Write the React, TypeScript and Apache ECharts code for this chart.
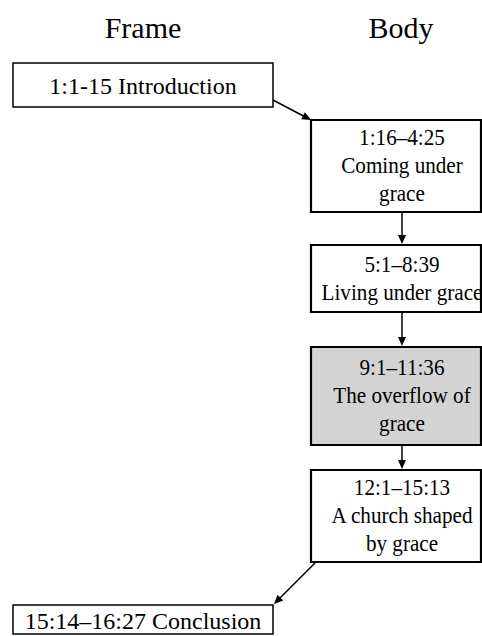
import React, { useEffect, useRef } from "react";
import * as echarts from "echarts";

// ---- content ----
const columnTitles = ["Frame", "Body"];
const frameLabels = ["1:1-15 Introduction", "15:14–16:27 Conclusion"];
const bodyLabels = [
  ["1:16–4:25", "Coming under", "grace"],
  ["5:1–8:39", "Living under grace"],
  ["9:1–11:36", "The overflow of", "grace"],
  ["12:1–15:13", "A church shaped", "by grace"],
];
const bodyHighlighted = [false, false, true, false];

// ---- layout ----
const W = 482;
const H = 636;
const FONT = "'Liberation Serif', 'DejaVu Serif', serif";
const titleX = [143, 401];
const titleY = 27;
const frameBox = { x: 13, w: 260 };
const frameY = [
  [63, 107],
  [605, 634],
];
const bodyBox = { x: 311, w: 170, textX: 402 };
const bodyY = [
  [120, 212],
  [245, 312],
  [347, 445],
  [470, 562],
];
const LINE_H = 28;

function arrow(x1: number, y1: number, x2: number, y2: number): any[] {
  const dx = x2 - x1;
  const dy = y2 - y1;
  const len = Math.sqrt(dx * dx + dy * dy);
  const ux = dx / len;
  const uy = dy / len;
  const headL = 9;
  const headW = 4;
  const bx = x2 - ux * headL;
  const by = y2 - uy * headL;
  const px = -uy;
  const py = ux;
  return [
    {
      type: "line",
      shape: { x1, y1, x2: bx + ux * 2, y2: by + uy * 2 },
      style: { stroke: "#000", lineWidth: 1.5 },
    },
    {
      type: "polygon",
      shape: {
        points: [
          [x2, y2],
          [bx + px * headW, by + py * headW],
          [bx - px * headW, by - py * headW],
        ],
      },
      style: { fill: "#000" },
    },
  ];
}

export default function App() {
  const ref = useRef<HTMLDivElement>(null);
  useEffect(() => {
    document.body.style.margin = "0";
    if (!ref.current) return;
    const chart = echarts.init(ref.current, null, { renderer: "svg" });
    const elements: any[] = [];

    columnTitles.forEach((t, i) => {
      elements.push({
        type: "text",
        style: {
          text: t,
          x: titleX[i],
          y: titleY,
          align: "center",
          verticalAlign: "middle",
          font: `30px ${FONT}`,
          fill: "#000",
        },
      });
    });

    frameLabels.forEach((t, i) => {
      const [y0, y1] = frameY[i];
      elements.push({
        type: "rect",
        shape: { x: frameBox.x, y: y0, width: frameBox.w, height: y1 - y0 },
        style: { fill: "#fff", stroke: "#000", lineWidth: 1.5 },
      });
      elements.push({
        type: "text",
        style: {
          text: t,
          x: frameBox.x + frameBox.w / 2,
          y: (y0 + y1) / 2 + 1,
          align: "center",
          verticalAlign: "middle",
          font: `24px ${FONT}`,
          fill: "#000",
        },
      });
    });

    bodyLabels.forEach((lines, i) => {
      const [y0, y1] = bodyY[i];
      const cy = (y0 + y1) / 2;
      elements.push({
        type: "rect",
        shape: { x: bodyBox.x, y: y0, width: bodyBox.w, height: y1 - y0 },
        style: {
          fill: bodyHighlighted[i] ? "#d3d3d3" : "#fff",
          stroke: "#000",
          lineWidth: 2.2,
        },
      });
      elements.push({
        type: "text",
        x: bodyBox.textX,
        y: cy,
        scaleX: 0.94,
        style: {
          text: lines.join("\n"),
          x: 0,
          y: 0,
          align: "center",
          verticalAlign: "middle",
          lineHeight: LINE_H,
          font: `22.5px ${FONT}`,
          fill: "#000",
        },
      });
    });

    // connectors
    elements.push(...arrow(273, 100, 311, 120));
    for (let i = 0; i < bodyY.length - 1; i++) {
      elements.push(...arrow(bodyBox.textX, bodyY[i][1] + 1, bodyBox.textX, bodyY[i + 1][0] - 1));
    }
    elements.push(...arrow(315, 563, 274, 604));

    chart.setOption({
      animation: false,
      backgroundColor: "#fff",
      graphic: { elements },
    });
    return () => chart.dispose();
  }, []);
  return <div ref={ref} style={{ width: W, height: H }} />;
}
